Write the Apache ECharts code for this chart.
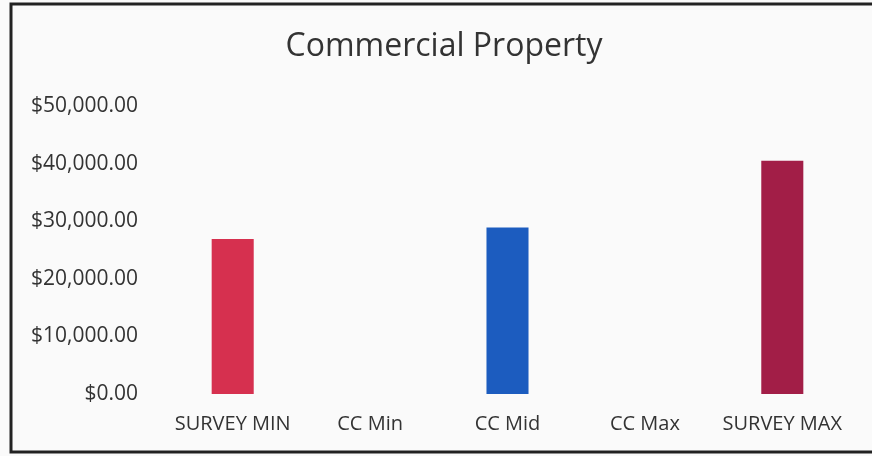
<!DOCTYPE html>
<html>
<head>
<meta charset="utf-8">
<script src="https://cdn.jsdelivr.net/npm/echarts@6/dist/echarts.min.js"></script>
<style>
  html, body { margin: 0; padding: 0; background: #fafafa; }
  #chart { width: 872px; height: 456px; }
</style>
</head>
<body>
<div id="chart"></div>
<script>
  var categories = ['SURVEY MIN', 'CC Min', 'CC Mid', 'CC Max', 'SURVEY MAX'];
  var values = [26900, null, 28900, null, 40500];
  var barColors = ['#d6304f', '#1c5cbf', '#1c5cbf', '#a21e47', '#a21e47'];
  var yTicks = [0, 10000, 20000, 30000, 40000, 50000];

  var chart = echarts.init(document.getElementById('chart'));

  function money(v) {
    return '$' + v.toLocaleString('en-US', {minimumFractionDigits: 2, maximumFractionDigits: 2});
  }

  var option = {
    backgroundColor: '#fafafa',
    textStyle: { fontFamily: 'Open Sans' },
    title: {
      text: 'Commercial Property',
      left: 439,
      textAlign: 'center',
      top: 26,
      textStyle: { fontFamily: 'Open Sans', fontSize: 32, fontWeight: 'normal', color: '#333' }
    },
    graphic: [{
      type: 'rect',
      shape: { x: 11, y: 4, width: 880, height: 448 },
      style: { fill: 'none', stroke: '#222', lineWidth: 3 }
    }],
    grid: { left: 164, right: 21, top: 106, bottom: 62 },
    xAxis: {
      type: 'category',
      data: categories,
      axisLine: { show: false },
      axisTick: { show: false },
      axisLabel: { color: '#333', fontSize: 20, margin: 20, interval: 0, hideOverlap: false }
    },
    yAxis: {
      type: 'value',
      min: yTicks[0],
      max: yTicks[yTicks.length - 1],
      interval: yTicks[1] - yTicks[0],
      splitLine: { show: false },
      axisLine: { show: false },
      axisTick: { show: false },
      axisLabel: { color: '#333', fontSize: 21, margin: 26, formatter: money }
    },
    series: [{
      type: 'bar',
      barWidth: '30.6%',
      data: values.map(function (v, i) {
        return { value: v, itemStyle: { color: barColors[i] } };
      })
    }]
  };
  chart.setOption(option);
</script>
</body>
</html>
